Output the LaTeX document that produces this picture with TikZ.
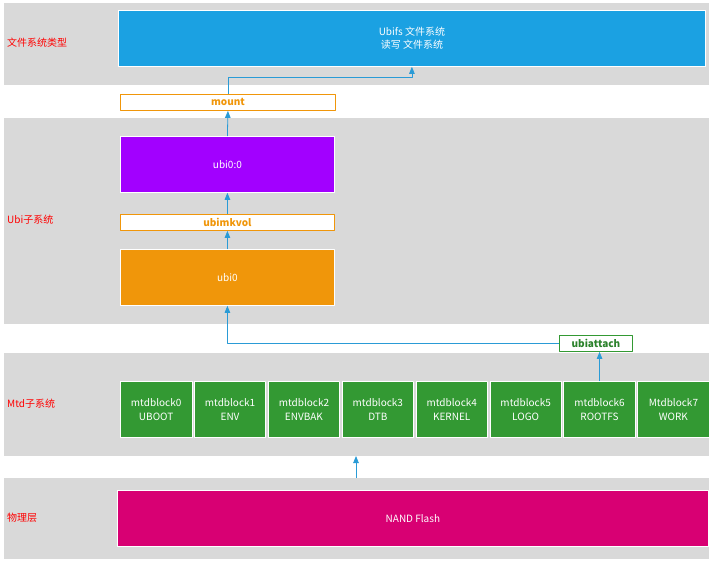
\documentclass[tikz,border=0pt]{standalone}
\usepackage{fontspec}
\setmainfont{Noto Sans CJK SC}
\usetikzlibrary{positioning,arrows.meta}
\definecolor{bandgray}{HTML}{D9D9D9}
\definecolor{fsblue}{HTML}{1BA1E2}
\definecolor{volpurple}{HTML}{A200FF}
\definecolor{ubiorange}{HTML}{F0960A}
\definecolor{mtdgreen}{HTML}{339933}
\definecolor{nandred}{HTML}{D80073}
\definecolor{arrblue}{HTML}{2A9BD6}
\begin{document}
\begin{tikzpicture}[x=1pt,y=-1pt,>={Triangle[length=7pt,width=5.5pt]},
  font=\fontsize{10}{13.5}\selectfont, line join=round,
  blk/.style={draw=white,line width=0.8pt,text=white,anchor=north west,align=center,inner sep=0pt},
  cmd/.style={fill=white,line width=0.9pt,anchor=north west,inner sep=0pt,minimum height=16,font=\fontsize{10}{12}\selectfont\bfseries},
  mtd/.style={blk,fill=mtdgreen,minimum width=71.5,minimum height=56},
  layer/.style={text=red,anchor=west,inner sep=0pt},
  arr/.style={->,arrblue,line width=0.8pt}]
  \useasboundingbox (0,0) rectangle (709,561);
  % bands
  \fill[bandgray] (4,3) rectangle (709,85);
  \fill[bandgray] (4,118) rectangle (709,324);
  \fill[bandgray] (4,353) rectangle (709,456);
  \fill[bandgray] (4,478) rectangle (709,559);
  \node[layer] (lfs) at (7,43) {文件系统类型};
  \node[layer] (lubi) at (7,220) {Ubi子系统};
  \node[layer] (lmtd) at (7,404) {Mtd子系统};
  \node[layer] (lphy) at (7,518) {物理层};
  % boxes
  \node[blk,fill=fsblue,minimum width=587,minimum height=56] (ubifs) at (118,10) {Ubifs 文件系统\\读写 文件系统};
  \node[cmd,draw=ubiorange,text=ubiorange,minimum width=215] (mount) at (120,94) {mount};
  \node[blk,fill=volpurple,minimum width=214,minimum height=56] (vol) at (120,136) {ubi0:0};
  \node[cmd,draw=ubiorange,text=ubiorange,minimum width=214] (mkvol) at (120,214) {ubimkvol};
  \node[blk,fill=ubiorange,minimum width=214,minimum height=56] (ubi) at (120,249) {ubi0};
  \node[cmd,draw=mtdgreen,text=mtdgreen!85!black,minimum width=73] (attach) at (559,335) {ubiattach};
  \foreach \i/\n/\t in {0/mtdblock0/UBOOT,1/mtdblock1/ENV,2/mtdblock2/ENVBAK,3/mtdblock3/DTB,
      4/mtdblock4/KERNEL,5/mtdblock5/LOGO,6/mtdblock6/ROOTFS,7/Mtdblock7/WORK}
    \node[mtd] (mtd\i) at ({120+\i*73.9},381) {\n\\\t};
  \node[blk,fill=nandred,minimum width=591,minimum height=56] (nand) at (117,490) {NAND Flash};
  % arrows
  \coordinate (phytop) at (356,478);
  \coordinate (mtdbot) at (356,456);
  \draw[arr] (phytop) -- (mtdbot);
  \draw[arr] (mtd6.north) -- (mtd6.north |- attach.south);
  \draw[arr] (attach.west) -| (ubi.south);
  \draw[arr] (ubi.north) -- (mkvol.south);
  \draw[arr] (mkvol.north) -- (vol.south);
  \draw[arr] (vol.north) -- (mount.south);
  \draw[arr] (mount.north) -- ++(0,-17) -| (ubifs.south);
\end{tikzpicture}
\end{document}
